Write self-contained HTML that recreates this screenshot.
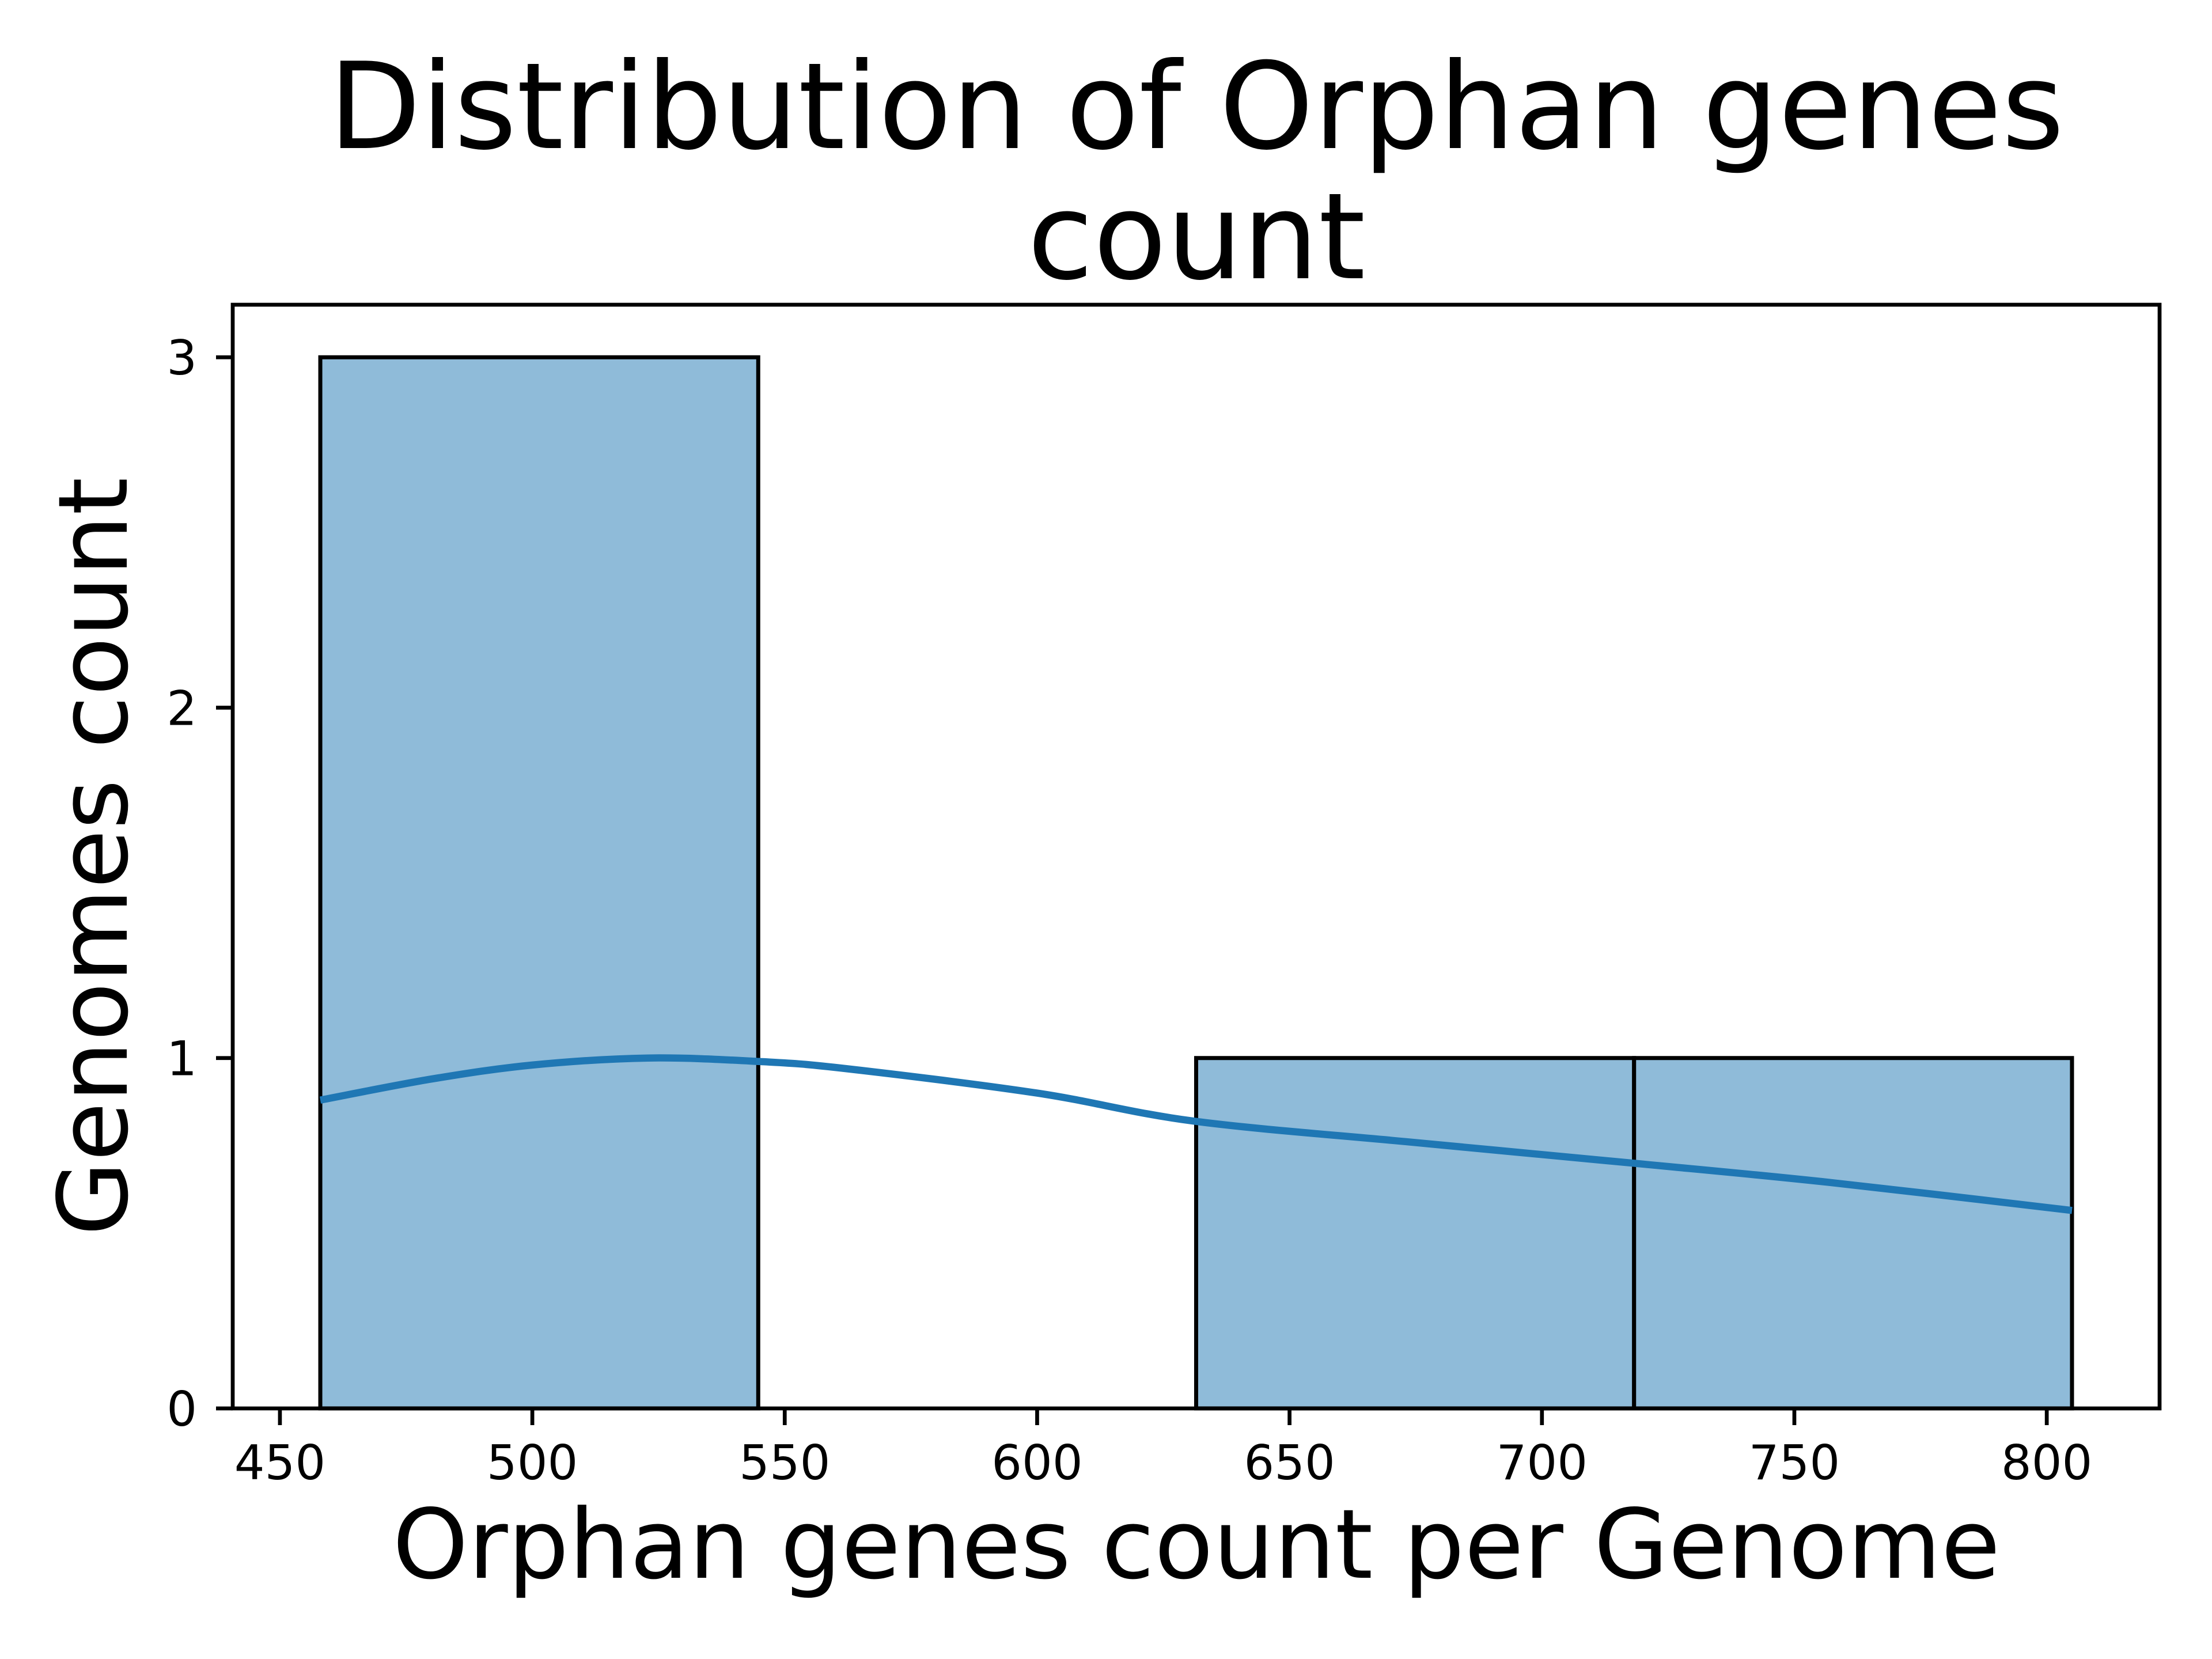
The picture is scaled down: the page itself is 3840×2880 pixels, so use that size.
<!DOCTYPE html>
<html><head><meta charset="utf-8"><style>
html,body{margin:0;padding:0;background:#fff;}
svg{display:block;font-family:"DejaVu Sans","Liberation Sans",sans-serif;}
</style></head><body>
<svg id="chart" width="3840" height="2880" viewBox="0 0 3840 2880" xmlns="http://www.w3.org/2000/svg">
<rect width="3840" height="2880" fill="#fff"/>
<g id="bars"></g>
<g id="kde"></g>
<g id="axes"></g>
<text x="2077" y="257" font-size="208" text-anchor="middle">Distribution of Orphan genes</text>
<text x="2077" y="483" font-size="208" text-anchor="middle">count</text>
<text x="2077" y="2739" font-size="167" text-anchor="middle">Orphan genes count per Genome</text>
<text x="0" y="0" font-size="167" text-anchor="middle" transform="translate(220,1487) rotate(-90)">Genomes count</text>
</svg>
<script>
const binEdges = [458, 544.75, 631.5, 718.25, 805];
const counts = [3, 0, 1, 1];
const kdeX = [458, 480, 500, 523, 545, 562, 600, 631, 674, 718, 757, 805];
const kdeY = [0.88, 0.94, 0.98, 1.0, 0.99, 0.97, 0.9, 0.82, 0.76, 0.70, 0.645, 0.565];
const xTicks = [450, 500, 550, 600, 650, 700, 750, 800];
const yTicks = [0, 1, 2, 3];

const L=404,R=3749,T=529,B=2445;
const xMin=440.65,xMax=822.35,yMin=0,yMax=3.15;
const sx=v=>L+(v-xMin)/(xMax-xMin)*(R-L);
const sy=v=>B-(v-yMin)/(yMax-yMin)*(B-T);
const NS="http://www.w3.org/2000/svg";
function mk(tag,attrs,parent){const e=document.createElementNS(NS,tag);for(const k in attrs)e.setAttribute(k,attrs[k]);parent.appendChild(e);return e;}

const bars=document.getElementById('bars');
counts.forEach((c,i)=>{
  if(c<=0)return;
  const x0=sx(binEdges[i]),x1=sx(binEdges[i+1]);
  const r=mk('rect',{x:x0,y:sy(c),width:x1-x0,height:sy(0)-sy(c),fill:'#8fbbd9',stroke:'#000','stroke-width':7},bars);
  
  
});

const kde=document.getElementById('kde');
const pts=kdeX.map((x,i)=>[sx(x),sy(kdeY[i])]);
let d='M'+pts[0][0].toFixed(1)+' '+pts[0][1].toFixed(1);
for(let i=0;i<pts.length-1;i++){
  const p0=pts[Math.max(0,i-1)],p1=pts[i],p2=pts[i+1],p3=pts[Math.min(pts.length-1,i+2)];
  const c1=[p1[0]+(p2[0]-p0[0])/6,p1[1]+(p2[1]-p0[1])/6];
  const c2=[p2[0]-(p3[0]-p1[0])/6,p2[1]-(p3[1]-p1[1])/6];
  d+=' C'+c1[0].toFixed(1)+' '+c1[1].toFixed(1)+' '+c2[0].toFixed(1)+' '+c2[1].toFixed(1)+' '+p2[0].toFixed(1)+' '+p2[1].toFixed(1);
}
const p=mk('path',{d:d,fill:'none',stroke:'#1f77b4','stroke-width':12.5,'stroke-linejoin':'round','stroke-linecap':'butt'},kde);



const ax=document.getElementById('axes');
const frame=mk('rect',{x:L,y:T,width:R-L,height:B-T,fill:'none',stroke:'#000','stroke-width':6.7},ax);


xTicks.forEach(t=>{
  const x=sx(t);
  const l=mk('line',{x1:x,x2:x,y1:B,y2:B+29,stroke:'#000','stroke-width':6.7},ax);
  
  
  const tx=mk('text',{x:x,y:2568,'font-size':83,'text-anchor':'middle'},ax);
  tx.textContent=t;
  
  
});
yTicks.forEach(t=>{
  const y=sy(t);
  const l=mk('line',{x1:L-29,x2:L,y1:y,y2:y,stroke:'#000','stroke-width':6.7},ax);
  
  
  const tx=mk('text',{x:342,y:y+30,'font-size':83,'text-anchor':'end'},ax);
  tx.textContent=t;
  
  
});
</script>
</body></html>
